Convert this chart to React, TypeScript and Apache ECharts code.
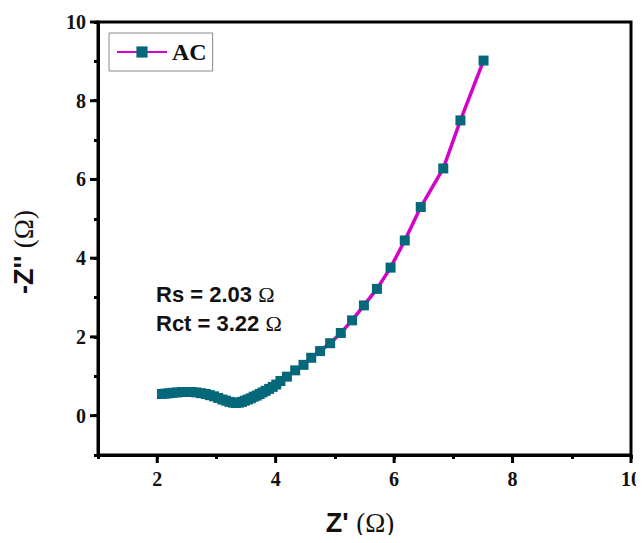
import React, { useEffect, useRef } from "react";
import * as echarts from "echarts";

const zReal: number[] = [
  2.08, 2.14, 2.2, 2.27, 2.34, 2.42, 2.5, 2.58, 2.66, 2.74, 2.82, 2.89, 2.96, 3.03, 3.1, 3.16, 3.22,
  3.28, 3.33, 3.38, 3.43, 3.48, 3.53, 3.58, 3.63, 3.68, 3.73, 3.78, 3.83, 3.89, 3.95, 4.01, 4.08,
  4.19, 4.33, 4.47, 4.6, 4.75, 4.92, 5.1, 5.29, 5.49, 5.71, 5.94, 6.18, 6.45, 6.83, 7.12, 7.51,
];
const zImag: number[] = [
  0.55, 0.56, 0.57, 0.58, 0.59, 0.6, 0.6, 0.6, 0.59, 0.57, 0.55, 0.52, 0.49, 0.45, 0.41, 0.38, 0.35,
  0.33, 0.32, 0.33, 0.35, 0.38, 0.41, 0.44, 0.48, 0.51, 0.55, 0.59, 0.63, 0.68, 0.73, 0.79, 0.88,
  0.99, 1.15, 1.29, 1.47, 1.64, 1.84, 2.1, 2.42, 2.8, 3.22, 3.76, 4.45, 5.3, 6.28, 7.5, 9.02,
];
const xMajor = [2, 4, 6, 8, 10];
const yMajor = [0, 2, 4, 6, 8, 10];
const X_MIN = 1;
const X_MAX = 10;
const Y_MIN = -1;
const Y_MAX = 10;
const seriesName = "AC";
const annotations = ["Rs = 2.03 ", "Rct = 3.22 "];

const LINE = "#D600C6";
const MARK = "#05687A";
const SERIF = "'Liberation Serif', 'Times New Roman', serif";
const SANS = "'Liberation Sans', Arial, sans-serif";

export default function App() {
  const ref = useRef<HTMLDivElement>(null);
  useEffect(() => {
    if (!ref.current) return;
    const chart = echarts.init(ref.current, null, { renderer: "svg" });
    const data = zReal.map((x, i) => [x, zImag[i]]);
    const labelStyle = {
      color: "#111",
      fontFamily: SERIF,
      fontWeight: "bold" as const,
      fontSize: 20,
    };
    const rich = (size: number) => ({
      a: { fontFamily: SANS, fontWeight: "bold", fontSize: size, fill: "#111" },
      b: { fontFamily: SERIF, fontSize: size, fill: "#111" },
    });
    const textGraphics: any[] = [
      { type: "text", left: 156, top: 283, style: { text: `{a|${annotations[0]}}{b|Ω}`, rich: rich(22) } },
      { type: "text", left: 156, top: 312, style: { text: `{a|${annotations[1]}}{b|Ω}`, rich: rich(22) } },
      {
        type: "text",
        x: 360,
        y: 523,
        style: { text: "{a|Z' }{b|(Ω)}", align: "center", verticalAlign: "middle", rich: rich(27) },
      },
      {
        type: "text",
        x: 24,
        y: 252,
        rotation: Math.PI / 2,
        style: { text: "{a|-Z'' }{b|(Ω)}", align: "center", verticalAlign: "middle", rich: rich(27) },
      },
    ];
    const tickCommon = { show: true, length: 4, lineStyle: { color: "#000", width: 3 } };
    chart.setOption({
      animation: false,
      backgroundColor: "#fff",
      grid: {
        left: 98,
        top: 22,
        right: 12,
        bottom: 88,
        show: true,
        borderColor: "#000",
        borderWidth: 3,
        containLabel: false,
      },
      legend: {
        left: 109,
        top: 33,
        orient: "vertical",
        data: [seriesName],
        itemWidth: 50,
        itemHeight: 14,
        padding: [7, 6, 7, 7],
        borderColor: "#888",
        borderWidth: 1,
        borderRadius: 0,
        textStyle: { fontFamily: SERIF, fontWeight: "bold", fontSize: 24, color: "#111" },
      },
      xAxis: {
        type: "value",
        min: X_MIN,
        max: X_MAX,
        interval: 1,
        splitLine: { show: false },
        axisLine: { show: true, onZero: false, lineStyle: { color: "#000", width: 3 } },
        axisTick: tickCommon,
        axisLabel: { ...labelStyle, margin: 14, formatter: (v: number) => (xMajor.includes(v) ? String(v) : "") },
      },
      yAxis: {
        type: "value",
        min: Y_MIN,
        max: Y_MAX,
        interval: 1,
        splitLine: { show: false },
        axisLine: { show: true, onZero: false, lineStyle: { color: "#000", width: 3 } },
        axisTick: tickCommon,
        axisLabel: { ...labelStyle, margin: 12, formatter: (v: number) => (yMajor.includes(v) ? String(v) : "") },
      },
      series: [
        {
          name: seriesName,
          type: "line",
          data,
          symbol: "rect",
          symbolSize: 10,
          showAllSymbol: true,
          lineStyle: { color: LINE, width: 3.5 },
          itemStyle: { color: MARK },
          z: 3,
        },
      ],
    });

    // Longer major tick marks placed through the chart's own scales
    const ticks: any[] = [];
    const yBottom = chart.convertToPixel({ yAxisIndex: 0 }, Y_MIN) as number;
    const xLeft = chart.convertToPixel({ xAxisIndex: 0 }, X_MIN) as number;
    xMajor.forEach((v) => {
      const px = chart.convertToPixel({ xAxisIndex: 0 }, v) as number;
      ticks.push({
        type: "line",
        shape: { x1: px, y1: yBottom, x2: px, y2: yBottom + 8 },
        style: { stroke: "#000", lineWidth: 3 },
      });
    });
    yMajor.forEach((v) => {
      const py = chart.convertToPixel({ yAxisIndex: 0 }, v) as number;
      ticks.push({
        type: "line",
        shape: { x1: xLeft - 8, y1: py, x2: xLeft, y2: py },
        style: { stroke: "#000", lineWidth: 3 },
      });
    });
    chart.setOption({ graphic: [...ticks, ...textGraphics] });

    return () => chart.dispose();
  }, []);
  return <div ref={ref} style={{ width: 644, height: 543, margin: -8 }} />;
}
